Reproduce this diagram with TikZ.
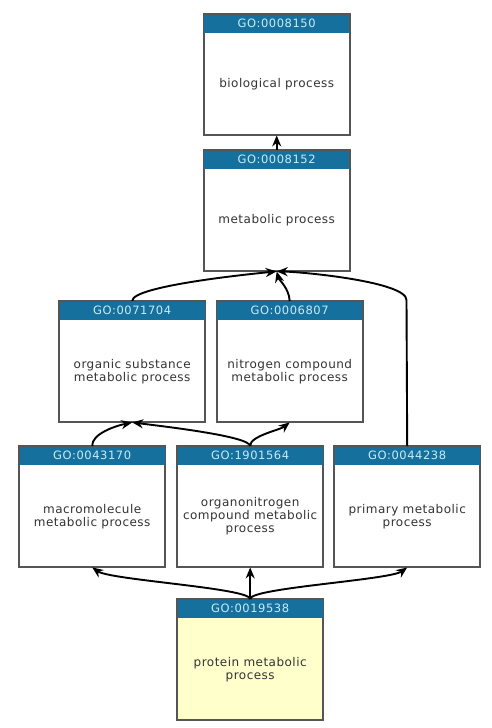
\documentclass[tikz,border=0pt]{standalone}
\usepackage{fontspec}
\setmainfont{DejaVu Sans}
\newfontfamily\hdrfont[LetterSpace=5]{DejaVu Sans}
\newfontfamily\lblfont[LetterSpace=4]{DejaVu Sans}
\usetikzlibrary{arrows.meta}
\definecolor{hdrblue}{HTML}{16709E}
\definecolor{hdrtext}{HTML}{C8ECF8}
\definecolor{boxline}{HTML}{555555}
\definecolor{labeltext}{HTML}{333333}
\definecolor{leafyellow}{HTML}{FFFFCC}
\tikzset{
  gobox/.style={draw=boxline, line width=1.4pt, fill=white, minimum width=145pt, minimum height=120pt, inner sep=0pt, anchor=north west},
  hdr/.style={fill=hdrblue},
  hdrlabel/.style={text=hdrtext, font=\hdrfont\fontsize{11.5}{12}\selectfont, inner sep=0pt},
  bodylabel/.style={text=labeltext, font=\lblfont\fontsize{12}{13}\selectfont, align=center, inner sep=0pt},
  edge/.style={line width=1.9pt, black, -{Stealth[length=11pt,width=9pt]}}
}
\newcommand{\gonode}[6]{%
  \node[gobox, fill=#6] (#1) at (#2,#3) {};
  \fill[hdr] (#1.north west) rectangle ([yshift=-18.5pt]#1.north east);
  \draw[boxline, line width=1.4pt] (#1.north west) rectangle (#1.south east);
  \node[hdrlabel] (#1h) at ([yshift=-9.5pt]#1.north) {#4};
  \node[bodylabel] (#1l) at ([yshift=-9.5pt]#1.center) {#5};
}
\begin{document}
\begin{tikzpicture}[x=1pt,y=-1pt]
\useasboundingbox[fill=white] (0,0) rectangle (491,728);
\gonode{a}{203.5}{14}{GO:0008150}{biological process}{white}
\gonode{b}{203.5}{150}{GO:0008152}{metabolic process}{white}
\gonode{c}{59}{301}{GO:0071704}{organic substance\\metabolic process}{white}
\gonode{d}{216.5}{301}{GO:0006807}{nitrogen compound\\metabolic process}{white}
\gonode{e}{19}{446}{GO:0043170}{macromolecule\\metabolic process}{white}
\gonode{f}{177}{446}{GO:1901564}{organonitrogen\\compound metabolic\\process}{white}
\gonode{g}{334}{446}{GO:0044238}{primary metabolic\\process}{white}
\gonode{h}{177}{599}{GO:0019538}{protein metabolic\\process}{leafyellow}
% edges
\draw[edge] (b.north) -- (a.south);
\draw[edge] (c.north) .. controls (131.5,286) and (250,274) .. (b.south);
\draw[edge] (d.north) .. controls (289,288) and (279,280) .. (b.south);
\draw[edge] (g.north) -- (406.5,300) .. controls (406.5,282) and (305,272) .. (b.south);
\draw[edge] (e.north) .. controls (91.5,434) and (115,426) .. (c.south);
\draw[edge] (f.north) .. controls (249.5,436) and (160,426) .. (c.south);
\draw[edge] (f.north) .. controls (249.5,436) and (280,430) .. (d.south);
\draw[edge] (h.north) .. controls (249.5,588) and (110,580) .. (e.south);
\draw[edge] (h.north) -- (f.south);
\draw[edge] (h.north) .. controls (249.5,588) and (390,580) .. (g.south);
\end{tikzpicture}
\end{document}
